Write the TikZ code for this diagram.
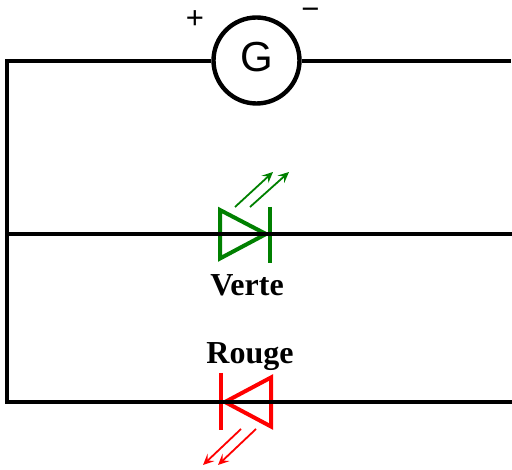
\documentclass[tikz,border=0pt]{standalone}
\usepackage{fontspec}
\setmainfont{Liberation Serif}
\newfontfamily\gfont{Liberation Sans}
\usetikzlibrary{arrows.meta}
\definecolor{ledgreen}{RGB}{0,128,0}
\definecolor{ledred}{RGB}{255,0,0}
\tikzset{
  x=1pt,y=-1pt,
  wire/.style={line width=4.4pt,black,line cap=butt},
  ledbody/.style={line width=4pt,miter limit=20},
  ray/.style={line width=1.8pt,-{Stealth[length=11pt,width=10pt,inset=4.5pt]}},
  gen/.style={circle,draw,line width=4.4pt,minimum size=86pt,inner sep=0pt,font=\gfont\fontsize{42}{42}\selectfont},
  sign/.style={inner sep=0pt,font=\gfont\fontsize{31}{31}\selectfont},
  ledname/.style={inner sep=0pt,font=\bfseries\fontsize{32}{32}\selectfont},
}
\begin{document}
\begin{tikzpicture}
\useasboundingbox (0,0) rectangle (512,470);
% green LED
\draw[ledbody,ledgreen] (220,210) -- (220,258.5) -- (266,234) -- cycle;
\draw[ledbody,ledgreen] (270,207) -- (270,263);
\coordinate (g1s) at (235,207); \coordinate (g1e) at (273,172);
\coordinate (g2s) at (250,207); \coordinate (g2e) at (289,172);
\draw[ray,ledgreen] (g1s) -- (g1e);
\draw[ray,ledgreen] (g2s) -- (g2e);
% red LED
\draw[ledbody,ledred] (271,377.5) -- (271,426.5) -- (225,402) -- cycle;
\draw[ledbody,ledred] (221,373) -- (221,430);
\coordinate (r1s) at (241,429); \coordinate (r1e) at (203,465);
\coordinate (r2s) at (256,429); \coordinate (r2e) at (218,465);
\draw[ray,ledred] (r1s) -- (r1e);
\draw[ray,ledred] (r2s) -- (r2e);
% generator and wires
\node[gen] (G) at (256.5,60.5) {\raisebox{7pt}{G}};
\coordinate (tr) at (511,61);
\coordinate (tl) at (7,61);
\coordinate (ml) at (7,234);
\coordinate (mr) at (512,234);
\coordinate (bl) at (7,402);
\coordinate (br) at (512,402);
\draw[wire,line join=miter] (G.west |- tl) -- (tl) -- (bl) -- (br);
\draw[wire] (G.east |- tr) -- (tr);
\draw[wire] (ml) -- (mr);
\node[sign] (plus) at (195,20) {+};
\node[sign] (minus) at (310.5,14) {\char"2212};
\node[ledname] (verte) at (247,285) {Verte};
\node[ledname] (rouge) at (250,357) {Rouge};
\end{tikzpicture}
\end{document}
